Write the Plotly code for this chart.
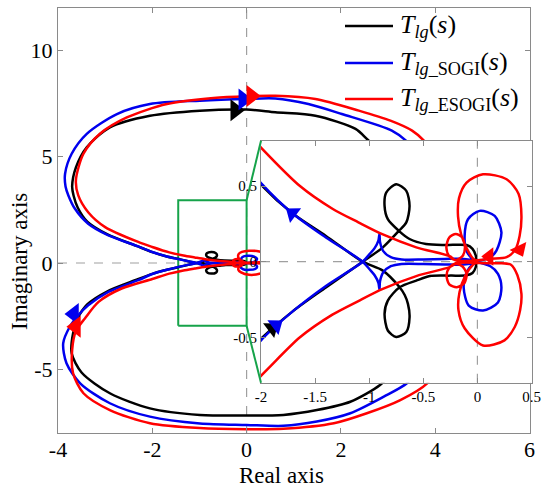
import plotly.graph_objects as go

# ---------------- traced data (complex plane: real, imaginary) ----------------
# T_lg(s)  (black)
tlg_re = [2.80, 2.55, 2.31, 1.46, 0.61, 0.00, -0.99, -2.05, -2.90, -3.39, -3.62, -3.70, -3.67, -3.58, -3.38, -2.95, -2.35, -2.00, -1.71, -1.40, -1.06,
          -0.874, -0.719, -0.672, -0.642, -0.627, -0.657, -0.750, -0.828, -0.858, -0.828, -0.719, -0.565, -0.440, -0.250, -0.100,
          -0.045, -0.015, -0.010, -0.015, -0.045, -0.100, -0.300, -0.475, -0.627, -0.726, -0.828, -0.858, -0.843, -0.750, -0.657, -0.627, -0.657, -0.726, -0.874, -1.06,
          -1.40, -1.71, -2.00, -2.35, -2.95, -3.38, -3.58, -3.68, -3.71, -3.50, -2.90, -2.05, -0.99, 0.00, 0.78, 1.49, 2.20, 2.83, 3.10]
tlg_im = [5.30, 5.84, 6.31, 6.93, 7.09, 7.22, 7.17, 6.93, 6.38, 5.45, 4.50, 3.60, 3.18, 2.60, 1.95, 1.35, 0.82, 0.51, 0.32, 0.17, 0.00,
          -0.059, -0.169, -0.220, -0.279, -0.367, -0.465, -0.498, -0.455, -0.345, -0.257, -0.169, -0.125, -0.095, -0.092, -0.090,
          -0.075, -0.035, 0.000, 0.040, 0.085, 0.110, 0.110, 0.117, 0.150, 0.204, 0.281, 0.369, 0.457, 0.512, 0.468, 0.369, 0.260, 0.204, 0.095, 0.000,
          -0.17, -0.33, -0.51, -0.80, -1.33, -1.95, -2.60, -3.30, -4.25, -5.15, -6.13, -6.84, -7.15, -7.18, -7.15, -6.92, -6.53, -5.74, -5.10]

# T_lg_SOGI(s)  (blue)
sogi_re = [3.60, 3.38, 3.08, 2.02, 1.31, 0.61, 0.00, -0.99, -2.05, -2.75, -3.39, -3.71, -3.85, -3.84, -3.78, -3.64, -3.36, -2.93, -2.30, -2.00, -1.71, -1.40, -1.06,
           -0.997, -0.950, -0.915, -0.905, -0.900, -0.870, -0.800, -0.700, -0.500, -0.300, -0.150, -0.050, 0.000, 0.120, 0.190, 0.222, 0.190, 0.052, -0.080, -0.127, -0.100, -0.040, 0.000,
           -0.040, -0.100, -0.118, -0.087, 0.021, 0.160, 0.222, 0.176, 0.120, 0.000, -0.050, -0.150, -0.300, -0.500, -0.700, -0.800, -0.870, -0.900, -0.905, -0.915, -0.950, -0.997, -1.06,
           -1.40, -1.71, -2.00, -2.30, -2.93, -3.36, -3.57, -3.75, -3.89, -3.82, -3.53, -2.90, -2.05, -0.99, 0.00, 0.78, 1.49, 2.20, 2.91, 3.40, 3.60]
sogi_im = [5.20, 5.76, 6.23, 7.01, 7.48, 7.74, 7.72, 7.64, 7.48, 7.01, 6.08, 5.14, 4.20, 3.60, 3.18, 2.55, 1.85, 1.30, 0.78, 0.52, 0.32, 0.16, 0.00,
           -0.050, -0.090, -0.140, -0.185, -0.130, -0.070, -0.030, -0.015, -0.015, -0.018, -0.020, -0.012, -0.005, -0.030, -0.080, -0.169, -0.270, -0.323, -0.290, -0.169, -0.070, -0.015, 0.000,
           0.015, 0.070, 0.171, 0.281, 0.336, 0.303, 0.194, 0.073, 0.030, 0.005, 0.012, 0.020, 0.018, 0.015, 0.015, 0.030, 0.070, 0.130, 0.185, 0.140, 0.090, 0.050, 0.000,
           -0.16, -0.33, -0.52, -0.81, -1.36, -1.99, -2.46, -3.00, -3.78, -4.72, -5.66, -6.60, -7.23, -7.55, -7.62, -7.66, -7.46, -7.07, -6.29, -5.66, -5.10]

# T_lg_ESOGI(s)  (red)
esogi_re = [3.95, 3.76, 3.51, 3.05, 2.38, 1.46, 0.61, 0.00, -0.70, -1.69, -2.54, -3.11, -3.46, -3.62, -3.57, -3.36, -3.00, -2.30, -2.00, -1.64, -1.34, -1.10, -0.874, -0.565, -0.256,
            -0.200, -0.135, -0.115, -0.140, -0.200, -0.260, -0.287, -0.260, -0.200, -0.100, 0.000, 0.120, 0.270,
            0.350, 0.390, 0.407, 0.380, 0.270, 0.052, -0.100, -0.170, -0.179, -0.150, -0.100, -0.040, 0.000,
            -0.040, -0.110, -0.165, -0.175, -0.118, 0.052, 0.250, 0.345, 0.395, 0.407, 0.370, 0.310, 0.200, 0.050, -0.100,
            -0.200, -0.260, -0.285, -0.260, -0.190, -0.120, -0.100, -0.140, -0.200,
            -0.256, -0.565, -0.874, -1.10, -1.34, -1.64, -2.00, -2.65, -3.14, -3.43, -3.62, -3.70, -3.68, -3.46, -2.90, -2.05, -0.99, 0.00, 0.78, 1.85, 2.55, 3.26, 3.83, 4.00]
esogi_im = [5.20, 5.76, 6.23, 6.70, 7.17, 7.72, 7.87, 7.85, 7.77, 7.48, 6.85, 6.08, 5.14, 3.90, 3.18, 2.39, 1.69, 0.99, 0.754, 0.50, 0.35, 0.26, 0.18, 0.095, 0.036,
            0.010, 0.040, 0.095, 0.160, 0.183, 0.160, 0.095, 0.035, 0.010, 0.005, 0.010, 0.020, 0.030,
            0.080, 0.170, 0.300, 0.450, 0.545, 0.578, 0.523, 0.420, 0.300, 0.180, 0.090, 0.020, 0.000,
            -0.020, -0.090, -0.200, -0.320, -0.440, -0.554, -0.520, -0.432, -0.320, -0.213, -0.090, -0.020, -0.010, -0.010, -0.005,
            -0.010, -0.040, -0.090, -0.150, -0.169, -0.140, -0.080, -0.030, -0.015,
            -0.036, -0.095, -0.18, -0.26, -0.35, -0.50, -0.754, -1.20, -1.83, -2.61, -3.20, -4.10, -5.19, -6.13, -6.92, -7.54, -7.77, -7.82, -7.80, -7.54, -7.07, -6.45, -5.66, -5.10]

# direction arrows
main_arrow_re = {"tlg": [-0.24], "sogi": [-0.07, -3.66], "esogi": [0.10, -3.62]}
main_arrow_im = {"tlg": [7.19], "sogi": [7.70, -2.40], "esogi": [7.86, -3.00]}
main_arrow_sym = {"tlg": ["triangle-right"], "sogi": ["triangle-right", "triangle-left"],
                  "esogi": ["triangle-right", "triangle-left"]}
inset_arrow_re = {"tlg": [-1.90], "sogi": [-1.71, -1.86], "esogi": [0.39, 0.11]}
inset_arrow_im = {"tlg": [-0.44], "sogi": [0.32, -0.42], "esogi": [0.08, 0.035]}
inset_arrow_sym = {"tlg": ["triangle-right"], "sogi": ["triangle-left", "triangle-right"],
                   "esogi": ["triangle-down", "triangle-left"]}
inset_arrow_ang = {"tlg": [-37], "sogi": [37, -37], "esogi": [-25, 0]}

# zoom box (in main axes units) and axes ranges
zoom_box_re = [-1.45, 0.0]
zoom_box_im = [-2.95, 2.95]
main_xr, main_yr = [-4, 6], [-8, 12]
ins_xr, ins_yr = [-2, 0.5], [-0.8, 0.8]
main_xt = [-4, -2, 0, 2, 4, 6]
main_yt = [-5, 0, 5, 10]
ins_xt = [-2, -1.5, -1, -0.5, 0, 0.5]
ins_xl = ["-2", "-1.5", "-1", "-0.5", "0", "0.5"]
ins_yt = [-0.5, 0, 0.5]
ins_yl = ["-0.5", "0", "0.5"]

series = [("tlg", tlg_re, tlg_im, "black"),
          ("sogi", sogi_re, sogi_im, "#0000ee"),
          ("esogi", esogi_re, esogi_im, "#ff0000")]

FONT = "Liberation Serif"
W, H = 550, 490
main_dx = [58 / W, 529.5 / W]
main_dy = [(H - 433) / H, (H - 8) / H]
ins_dx = [261 / W, 531.5 / W]
ins_dy = [(H - 382.7) / H, (H - 140.7) / H]

fig = go.Figure()

# green zoom rectangle (main axes)
fig.add_trace(go.Scatter(
    x=[zoom_box_re[0], zoom_box_re[1], zoom_box_re[1], zoom_box_re[0], zoom_box_re[0]],
    y=[zoom_box_im[0], zoom_box_im[0], zoom_box_im[1], zoom_box_im[1], zoom_box_im[0]],
    mode="lines", line=dict(color="#16a34a", width=2), xaxis="x", yaxis="y",
    hoverinfo="skip"))

for key, re_, im_, col in series:
    fig.add_trace(go.Scatter(x=re_, y=im_, mode="lines",
                             line=dict(color=col, width=2.5, shape="spline", smoothing=0.8),
                             xaxis="x", yaxis="y", hoverinfo="skip"))
for key, re_, im_, col in series:
    fig.add_trace(go.Scatter(x=main_arrow_re[key], y=main_arrow_im[key], mode="markers",
                             marker=dict(symbol=main_arrow_sym[key], size=19, color=col,
                                         line=dict(width=0)),
                             xaxis="x", yaxis="y", hoverinfo="skip"))

# inset: white cover then dashed axes lines then curves
fig.add_trace(go.Scatter(x=[ins_xr[0], ins_xr[1], ins_xr[1], ins_xr[0], ins_xr[0]],
                         y=[ins_yr[0], ins_yr[0], ins_yr[1], ins_yr[1], ins_yr[0]],
                         mode="lines", fill="toself", fillcolor="white",
                         line=dict(width=0, color="white"), xaxis="x2", yaxis="y2",
                         hoverinfo="skip"))
fig.add_trace(go.Scatter(x=[0, 0], y=ins_yr, mode="lines",
                         line=dict(color="#a0a0a0", width=1.2, dash="dash"),
                         xaxis="x2", yaxis="y2", hoverinfo="skip"))
fig.add_trace(go.Scatter(x=ins_xr, y=[0, 0], mode="lines",
                         line=dict(color="#a0a0a0", width=1.2, dash="dash"),
                         xaxis="x2", yaxis="y2", hoverinfo="skip"))
for key, re_, im_, col in series:
    fig.add_trace(go.Scatter(x=re_, y=im_, mode="lines",
                             line=dict(color=col, width=2.5, shape="spline", smoothing=0.8),
                             xaxis="x2", yaxis="y2", hoverinfo="skip"))
for key, re_, im_, col in series:
    fig.add_trace(go.Scatter(x=inset_arrow_re[key], y=inset_arrow_im[key], mode="markers",
                             marker=dict(symbol=inset_arrow_sym[key], angle=inset_arrow_ang[key],
                                         size=16, color=col, line=dict(width=0)),
                             xaxis="x2", yaxis="y2", hoverinfo="skip"))

axis_common = dict(showgrid=False, zeroline=False, showline=True, linecolor="#8a8a8a",
                   linewidth=1, ticks="inside", mirror="ticks", tickcolor="#8a8a8a",
                   ticklen=5, color="black", automargin=False)


def to_paper(xv, yv):
    px = main_dx[0] + (xv - main_xr[0]) / (main_xr[1] - main_xr[0]) * (main_dx[1] - main_dx[0])
    py = main_dy[0] + (yv - main_yr[0]) / (main_yr[1] - main_yr[0]) * (main_dy[1] - main_dy[0])
    return px, py


shapes = [
    dict(type="line", xref="x", yref="y", x0=0, x1=0, y0=main_yr[0], y1=main_yr[1],
         line=dict(color="#a0a0a0", width=1.2, dash="dash"), layer="below"),
    dict(type="line", xref="x", yref="y", x0=main_xr[0], x1=main_xr[1], y0=0, y1=0,
         line=dict(color="#a0a0a0", width=1.2, dash="dash"), layer="below"),
]
# connector lines from zoom box to inset corners
c1 = to_paper(zoom_box_re[1], zoom_box_im[1])
c2 = to_paper(zoom_box_re[1], zoom_box_im[0])
shapes.append(dict(type="line", xref="paper", yref="paper", x0=c1[0], y0=c1[1],
                   x1=ins_dx[0], y1=ins_dy[1], line=dict(color="#16a34a", width=2)))
shapes.append(dict(type="line", xref="paper", yref="paper", x0=c2[0], y0=c2[1],
                   x1=ins_dx[0], y1=ins_dy[0], line=dict(color="#16a34a", width=2)))

# legend (manual)
leg_labels = ["<i>T</i><sub><i>lg</i></sub>(<i>s</i>)",
              "<i>T</i><sub><i>lg</i>_SOGI</sub>(<i>s</i>)",
              "<i>T</i><sub><i>lg</i>_ESOGI</sub>(<i>s</i>)"]
leg_rows_px = [26, 63, 99]
annotations = []
for (key, re_, im_, col), lab, ry in zip(series, leg_labels, leg_rows_px):
    yp = 1 - ry / H
    shapes.append(dict(type="line", xref="paper", yref="paper", x0=345 / W, x1=393 / W,
                       y0=yp, y1=yp, line=dict(color=col, width=2.5)))
    annotations.append(dict(xref="paper", yref="paper", x=398 / W, y=yp, text=lab,
                            showarrow=False, xanchor="left", yanchor="middle",
                            font=dict(family=FONT, size=26, color="black")))

annotations.append(dict(xref="paper", yref="paper", x=281 / W, y=1 - 475 / H, text="Real axis",
                        showarrow=False, xanchor="center", yanchor="middle",
                        font=dict(family=FONT, size=23, color="black")))
annotations.append(dict(xref="paper", yref="paper", x=19 / W, y=1 - 262 / H, text="Imaginary axis",
                        showarrow=False, xanchor="center", yanchor="middle", textangle=-90,
                        font=dict(family=FONT, size=23, color="black")))

fig.update_layout(
    width=W, height=H, margin=dict(l=0, r=0, t=0, b=0, pad=0), autosize=False,
    paper_bgcolor="white", plot_bgcolor="white", showlegend=False,
    font=dict(family=FONT, color="black"),
    xaxis=dict(domain=main_dx, range=main_xr, tickvals=main_xt,
               ticktext=[str(v) for v in main_xt], tickfont=dict(family=FONT, size=22),
               ticklabelstandoff=-3, anchor="y", **axis_common),
    yaxis=dict(domain=main_dy, range=main_yr, tickvals=main_yt,
               ticktext=[str(v) for v in main_yt], tickfont=dict(family=FONT, size=22),
               anchor="x", **axis_common),
    xaxis2=dict(domain=ins_dx, range=ins_xr, tickvals=ins_xt, ticktext=ins_xl,
                tickfont=dict(family=FONT, size=15), anchor="y2", **axis_common),
    yaxis2=dict(domain=ins_dy, range=ins_yr, tickvals=ins_yt, ticktext=ins_yl,
                tickfont=dict(family=FONT, size=15), anchor="x2", **axis_common),
    shapes=shapes, annotations=annotations,
)

fig.write_html("out.html", config={"displayModeBar": False, "staticPlot": True},
               post_script="document.body.style.margin='0';document.body.style.overflow='hidden';")
